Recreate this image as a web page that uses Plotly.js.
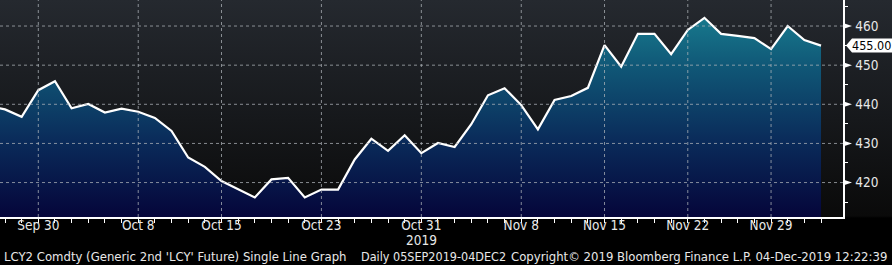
<!DOCTYPE html>
<html>
<head>
<meta charset="utf-8">
<script src="https://cdn.plot.ly/plotly-3.0.1.min.js"></script>
<style>
  html, body { margin:0; padding:0; width:892px; height:265px; overflow:hidden;
    background: linear-gradient(to bottom, #25292f 0px, #16181b 120px, #0a0a0a 216px, #000 218px, #000 265px); }
  #chart { width:892px; height:265px; }
</style>
</head>
<body>
<div id="chart"></div>
<script>
// ---- data ----
const dates = [
  '2019-09-25','2019-09-26','2019-09-27','2019-09-30',
  '2019-10-01','2019-10-02','2019-10-03','2019-10-04','2019-10-07','2019-10-08','2019-10-09','2019-10-10','2019-10-11',
  '2019-10-14','2019-10-15','2019-10-16','2019-10-17','2019-10-18','2019-10-21','2019-10-22','2019-10-23','2019-10-24','2019-10-25',
  '2019-10-28','2019-10-29','2019-10-30','2019-10-31','2019-11-01','2019-11-04','2019-11-05','2019-11-06','2019-11-07','2019-11-08',
  '2019-11-11','2019-11-12','2019-11-13','2019-11-14','2019-11-15','2019-11-18','2019-11-19','2019-11-20','2019-11-21','2019-11-22',
  '2019-11-25','2019-11-26','2019-11-27','2019-11-28','2019-11-29','2019-12-02','2019-12-03','2019-12-04'
];
const values = [
  439.5, 438.7, 436.8, 443.6,
  445.9, 439.0, 440.1, 437.9, 438.9, 438.1, 436.5, 433.2, 426.4,
  424.0, 420.4, 418.2, 416.2, 420.8, 421.2, 416.2, 418.2, 418.2, 425.9,
  431.2, 428.1, 432.1, 427.5, 430.1, 429.1, 434.9, 442.3, 444.1, 439.8,
  433.6, 441.1, 442.1, 444.2, 455.1, 449.6, 458.0, 458.0, 452.8, 459.0,
  462.1, 458.0, 457.5, 456.9, 454.1, 460.0, 456.4, 455.0
];
const labelDates = ['2019-09-30','2019-10-08','2019-10-15','2019-10-23','2019-10-31','2019-11-08','2019-11-15','2019-11-22','2019-11-29'];
const labelText  = ['Sep 30','Oct 8','Oct 15','Oct 23','Oct 31','Nov 8','Nov 15','Nov 22','Nov 29'];
const yearDate = '2019-10-31';
const yearText = '2019';
const yTicks = [420, 430, 440, 450, 460];
const lastValue = values[values.length - 1];
const footerLeft = "LCY2 Comdty (Generic 2nd 'LCY' Future) Single Line Graph";
const footerMid = "Daily 05SEP2019-04DEC2";
const footerRight = "Copyright\u00A9 2019 Bloomberg Finance L.P. 04-Dec-2019 12:22:39";

// ---- build ----
const FONT = 'DejaVu Sans Condensed, DejaVu Sans, sans-serif';
const TXT = '#e8e8e8';
const GRID = 'rgba(175,180,185,0.75)';

const tickText = dates.map(d => { const i = labelDates.indexOf(d); return i >= 0 ? labelText[i] : ''; });

const trace = {
  type: 'scatter', mode: 'lines', x: dates, y: values,
  line: { color: '#ffffff', width: 2.2 },
  fill: 'tozeroy',
  fillgradient: { type: 'vertical', start: 411.2, stop: 466.6,
    colorscale: [[0, '#05053a'], [0.35, '#0a2b5a'], [0.7, '#105877'], [1, '#1a8595']] },
  hoverinfo: 'skip'
};

const shapes = [];
labelDates.forEach(d => shapes.push({ type:'line', xref:'x', yref:'paper', x0:d, x1:d, y0:0, y1:1,
  line:{ color: GRID, width:1, dash:'3px,3px' }, layer:'above' }));
yTicks.forEach(v => shapes.push({ type:'line', xref:'paper', yref:'y', x0:0, x1:1, y0:v, y1:v,
  line:{ color: GRID, width:1, dash:'3px,3px' }, layer:'above' }));
// pointer triangles on the y axis
yTicks.forEach(v => shapes.push({ type:'path', xref:'paper', yref:'y', xsizemode:'pixel', ysizemode:'pixel',
  xanchor:1, yanchor:v, path:'M 0 3 L 9 0 L 0 -3 Z', fillcolor:'#ffffff', line:{width:0}, layer:'above' }));
// last value tag
shapes.push({ type:'path', xref:'paper', yref:'y', xsizemode:'pixel', ysizemode:'pixel',
  xanchor:1, yanchor:lastValue, path:'M 3 0 L 9 7 L 52 7 L 52 -7 L 9 -7 Z', fillcolor:'#ffffff', line:{width:0}, layer:'above' });

const W = 843;
const px = p => p / W;
const FY = -(256.5-216.7)/216.7;
const annotations = [
  { xref:'paper', yref:'y', x: px(850), y: lastValue, xanchor:'left', yanchor:'middle', text: lastValue.toFixed(2),
    showarrow:false, font:{ family: FONT, size: 12.5, color:'#000' } },
  { xref:'x', yref:'paper', x: yearDate, y: -(239.5-216.7)/216.7, xanchor:'center', yanchor:'middle', text: yearText,
    showarrow:false, font:{ family: FONT, size: 13.5, color: TXT } },
  { xref:'paper', yref:'paper', x: px(2), y: FY, xanchor:'left', yanchor:'middle', text: footerLeft,
    showarrow:false, font:{ family: FONT, size: 13, color: TXT } },
  { xref:'paper', yref:'paper', x: px(359), y: FY, xanchor:'left', yanchor:'middle', text: footerMid,
    showarrow:false, font:{ family: FONT, size: 12.5, color: TXT } },
  { xref:'paper', yref:'paper', x: px(889), y: FY, xanchor:'right', yanchor:'middle', text: footerRight,
    showarrow:false, font:{ family: FONT, size: 13, color: TXT } }
];

const layout = {
  width: 892, height: 265,
  margin: { l:0, r:49, t:0, b:48, pad:0 },
  paper_bgcolor: 'rgba(0,0,0,0)', plot_bgcolor: 'rgba(0,0,0,0)',
  showlegend: false,
  xaxis: {
    type:'category', range:[0.70, 51.32], tickmode:'array', tickvals: dates, ticktext: tickText,
    ticks:'outside', ticklen:4, tickwidth:1, tickcolor:'#ffffff', ticklabelstandoff: -9,
    showline:true, linecolor:'#ffffff', linewidth:2, showgrid:false, zeroline:false,
    tickfont:{ family: FONT, size: 13.5, color: TXT }, tickangle:0, fixedrange:true
  },
  yaxis: {
    side:'right', range:[411.2, 466.65], tickmode:'array', tickvals: yTicks, ticktext: yTicks.map(String),
    ticks:'outside', ticklen:8, tickcolor:'rgba(0,0,0,0)',
    minor:{ dtick:5, ticks:'outside', ticklen:3, tickcolor:'#ffffff', showgrid:false },
    showline:true, linecolor:'#ffffff', linewidth:1.5, showgrid:false, zeroline:false,
    tickfont:{ family: FONT, size: 13.5, color: TXT }, fixedrange:true
  },
  shapes: shapes,
  annotations: annotations
};

Plotly.newPlot('chart', [trace], layout, { staticPlot:true, displayModeBar:false });
</script>
</body>
</html>
